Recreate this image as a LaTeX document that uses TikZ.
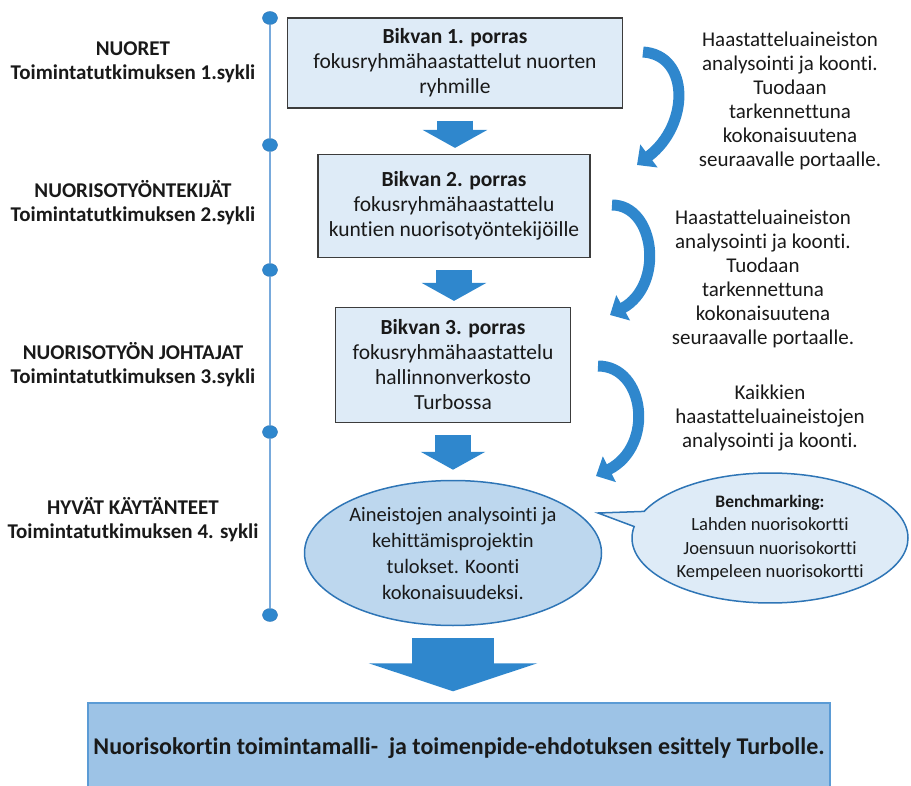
\documentclass[tikz,border=0pt]{standalone}
\usepackage{fontspec}
\setmainfont{Carlito}[Ligatures=NoCommon]
\usetikzlibrary{arrows.meta, shapes.geometric, shapes.callouts}
\definecolor{arrowblue}{RGB}{47,135,205}
\definecolor{boxfill}{RGB}{222,235,247}
\definecolor{boxline}{RGB}{60,60,60}
\definecolor{ellfill}{RGB}{189,215,238}
\definecolor{ellline}{RGB}{46,117,182}
\definecolor{finalfill}{RGB}{157,195,230}
\definecolor{finalline}{RGB}{91,155,213}
\definecolor{lineblue}{RGB}{120,170,220}
\definecolor{txt}{RGB}{25,25,25}

\begin{document}
\begin{tikzpicture}[x=1pt, y=-1pt,
    stage/.style={draw=boxline, line width=1.2pt, fill=boxfill, align=center, text=txt,
        font=\fontsize{21.5}{25}\selectfont},
    cycle/.style={align=center, text=txt, font=\fontsize{21}{24}\selectfont\bfseries},
    note/.style={align=center, text=txt, font=\fontsize{21}{24}\selectfont},
    dot/.style={draw=ellline, fill=arrowblue, ellipse, minimum width=15pt, minimum height=13pt, inner sep=0pt},
    blockarrow/.style={draw=arrowblue, line width=36pt, shorten <=12pt, shorten >=6pt,
        -{Triangle[length=18pt, width=64pt]}},
    bendarrow/.style={draw=arrowblue, line width=11pt,
        -{Triangle[length=15pt, width=28pt]}}]
    \useasboundingbox (0,0) rectangle (911,786);

    % Aikajana
    \node[dot] (d1) at (270,18) {};
    \node[dot] (d2) at (270,145) {};
    \node[dot] (d3) at (270,270) {};
    \node[dot] (d4) at (270,432) {};
    \node[dot] (d5) at (270,615) {};
    \draw[lineblue, line width=1.5pt] (d1) -- (d2) -- (d3) -- (d4) -- (d5);

    % Syklit
    \node[cycle] (nuoret) at (133,62) {NUORET\\Toimintatutkimuksen 1.sykli};
    \node[cycle] (tyontekijat) at (133,203) {NUORISOTYÖNTEKIJÄT\\Toimintatutkimuksen 2.sykli};
    \node[cycle] (johtajat) at (133,365) {NUORISOTYÖN JOHTAJAT\\Toimintatutkimuksen 3.sykli};
    \node[cycle] (kaytanteet) at (133,520) {HYVÄT KÄYTÄNTEET\\Toimintatutkimuksen 4. sykli};

    % Portaat
    \node[stage, minimum width=335pt, minimum height=90pt] (porras1) at (455,63)
        {{\bfseries Bikvan 1. porras}\\fokusryhmähaastattelut nuorten\\ryhmille};
    \node[stage, minimum width=272pt, minimum height=103pt] (porras2) at (454,206)
        {{\bfseries Bikvan 2. porras}\\fokusryhmähaastattelu\\kuntien nuorisotyöntekijöille};
    \node[stage, minimum width=235pt, minimum height=115pt] (porras3) at (453,365)
        {{\bfseries Bikvan 3. porras}\\fokusryhmähaastattelu\\hallinnonverkosto\\Turbossa};

    % Koonti
    \node[ellipse, draw=ellline, line width=1.5pt, fill=ellfill, inner sep=0pt, align=center, text=txt,
        minimum width=297pt, minimum height=145pt, font=\fontsize{20.5}{26}\selectfont] (aineistot) at (453,553)
        {Aineistojen analysointi ja\\kehittämisprojektin\\tulokset. Koonti\\kokonaisuudeksi.};

    % Benchmarking
    \node[ellipse callout, draw=ellline, line width=1.5pt, fill=boxfill, inner sep=0pt, align=center, text=txt,
        minimum width=276pt, minimum height=130pt, callout absolute pointer={(598,513)}, callout pointer arc=14,
        font=\fontsize{18.6}{23.5}\selectfont] (benchmark) at (770,538)
        {{\fontsize{17.5}{20}\selectfont\bfseries Benchmarking:}\\Lahden nuorisokortti\\Joensuun nuorisokortti\\Kempeleen nuorisokortti};

    % Esittely
    \node[draw=finalline, line width=1.5pt, fill=finalfill, minimum width=742pt, minimum height=90pt, text=txt,
        font=\fontsize{24}{28}\selectfont\bfseries] (esittely) at (459,748)
        {Nuorisokortin toimintamalli-\ \ ja toimenpide-ehdotuksen esittely Turbolle.};

    % Analysointi
    \node[note] (koonti1) at (790,101) {Haastatteluaineiston\\analysointi ja koonti.\\Tuodaan\\tarkennettuna\\kokonaisuutena\\seuraavalle portaalle.};
    \node[note] (koonti2) at (763,279) {Haastatteluaineiston\\analysointi ja koonti.\\Tuodaan\\tarkennettuna\\kokonaisuutena\\seuraavalle portaalle.};
    \node[note] (koonti3) at (770,418) {Kaikkien\\haastatteluaineistojen\\analysointi ja koonti.};

    % Nuolet alas
    \draw[blockarrow] (porras1.south) -- (porras1.south |- porras2.north);
    \draw[blockarrow] (porras2.south) -- (porras2.south |- porras3.north);
    \draw[blockarrow, shorten >=10pt] (porras3.south) -- (porras3.south |- aineistot.north);
    \draw[draw=arrowblue, line width=82pt, shorten <=12pt, shorten >=11pt,
        -{Triangle[length=28pt, width=168pt]}] (aineistot.south) -- (aineistot.south |- esittely.north);

    % Kaarinuolet
    \coordinate (k1a) at (643,52);
    \coordinate (k1b) at (637,165);
    \coordinate (k2a) at (612,205);
    \coordinate (k2b) at (610,315);
    \coordinate (k3a) at (598,366);
    \coordinate (k3b) at (596,476);
    \draw[bendarrow] (k1a) .. controls (690,55) and (690,125) .. (k1b);
    \draw[bendarrow] (k2a) .. controls (655,205) and (665,285) .. (k2b);
    \draw[bendarrow] (k3a) .. controls (645,366) and (655,446) .. (k3b);
\end{tikzpicture}
\end{document}
